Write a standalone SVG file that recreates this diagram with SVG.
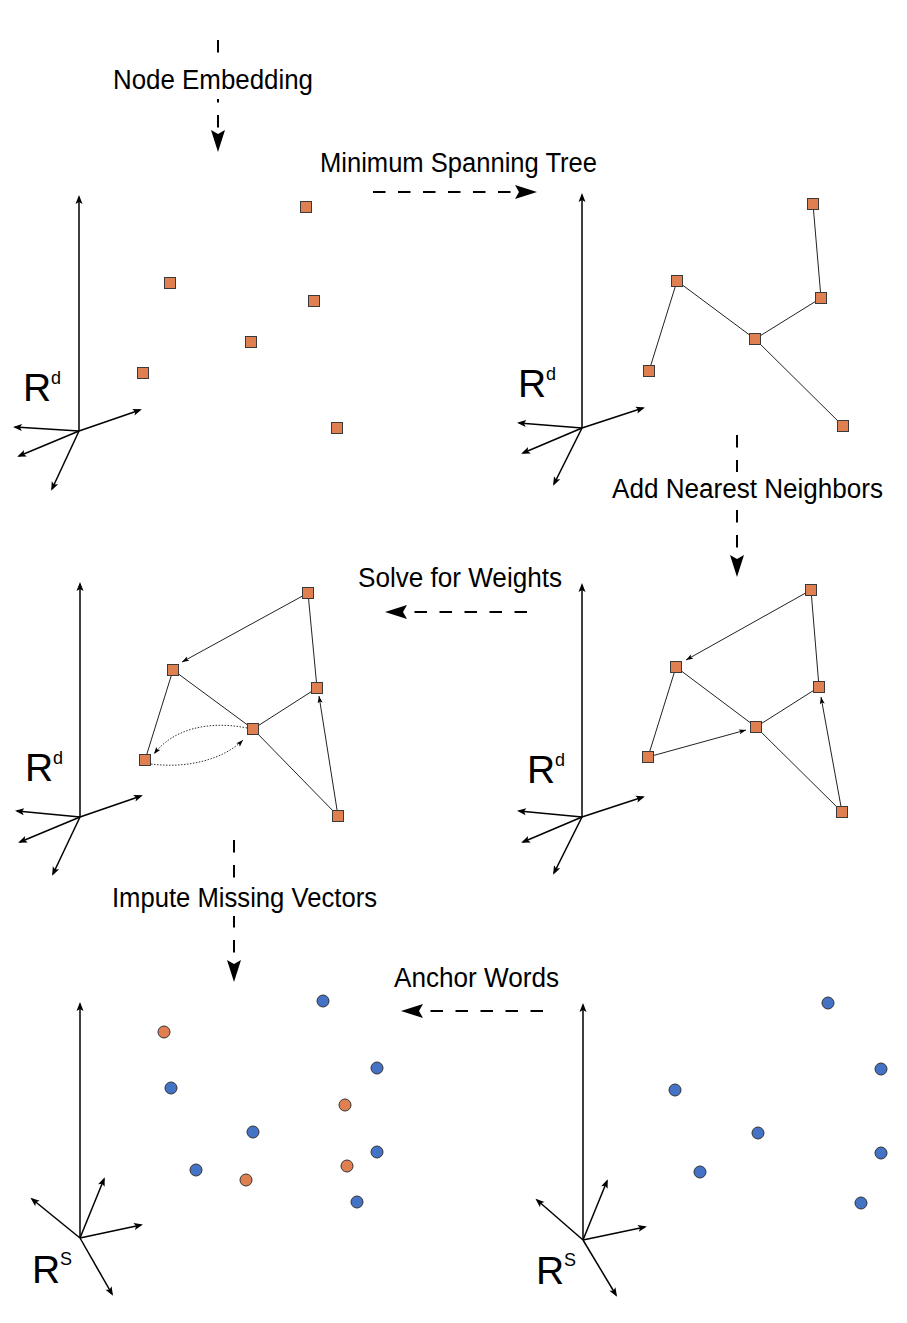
<svg xmlns="http://www.w3.org/2000/svg" width="907" height="1323" viewBox="0 0 907 1323">
<defs>
<style>
.lbl{font-family:"Liberation Sans",Arial,sans-serif;font-size:27px;fill:#000}
.ax{font-family:"Liberation Sans",Arial,sans-serif;font-size:39px;fill:#000}
.sup{font-size:18px}
.flow{stroke:#000;stroke-width:2;fill:none;stroke-dasharray:12.5 12.5;marker-end:url(#big)}
.axis{stroke:#000;stroke-width:1.5;fill:none;marker-end:url(#ah)}
.edge{stroke:#222;stroke-width:1;fill:none}
.arr{marker-end:url(#sm)}
.dot{stroke:#333;stroke-width:1;fill:none;stroke-dasharray:1.5 1.5;marker-end:url(#sm)}
.sq{fill:#E08050;stroke:#3a3a3a;stroke-width:1}
.co{fill:#E08050;stroke:#333;stroke-width:1}
.cb{fill:#4472C4;stroke:#333;stroke-width:1}
</style>
<marker id="big" markerUnits="userSpaceOnUse" markerWidth="24" markerHeight="16" refX="15" refY="7" orient="auto" overflow="visible">
<path d="M0,0 L22,7 L0,14 L4,7 Z" fill="#000"/>
</marker>
<marker id="ah" markerUnits="userSpaceOnUse" markerWidth="10" markerHeight="8" refX="7" refY="3.5" orient="auto" overflow="visible">
<path d="M0,0 L9,3.5 L0,7 L2,3.5 Z" fill="#000"/>
</marker>
<marker id="sm" markerUnits="userSpaceOnUse" markerWidth="8" markerHeight="6" refX="7" refY="2.5" orient="auto" overflow="visible">
<path d="M0,0 L7,2.5 L0,5 L1.5,2.5 Z" fill="#000"/>
</marker>
</defs>
<rect width="907" height="1323" fill="#fff"/>

<g id="connectors">
<line class="flow" x1="218" y1="40" x2="218" y2="145"/>
<line class="flow" x1="373" y1="192" x2="530" y2="192"/>
<line class="flow" x1="737" y1="435" x2="737" y2="570"/>
<line class="flow" x1="527" y1="612" x2="392" y2="612"/>
<line class="flow" x1="234" y1="840" x2="234" y2="975"/>
<line class="flow" x1="543" y1="1011" x2="408" y2="1011"/>

<g id="axes1">
<line class="axis" x1="79" y1="431" x2="79" y2="197"/>
<line class="axis" x1="79" y1="431" x2="15" y2="427"/>
<line class="axis" x1="79" y1="431" x2="19" y2="456"/>
<line class="axis" x1="79" y1="431" x2="52" y2="489"/>
<line class="axis" x1="79" y1="431" x2="140" y2="410"/>
</g>
<g id="axes2">
<line class="axis" x1="582" y1="428" x2="582" y2="195"/>
<line class="axis" x1="582" y1="428" x2="519" y2="423"/>
<line class="axis" x1="582" y1="428" x2="523" y2="453"/>
<line class="axis" x1="582" y1="428" x2="554" y2="484"/>
<line class="axis" x1="582" y1="428" x2="643" y2="408"/>
</g>
<g id="axes3">
<line class="axis" x1="80" y1="817" x2="80" y2="584"/>
<line class="axis" x1="80" y1="817" x2="17" y2="811"/>
<line class="axis" x1="80" y1="817" x2="20" y2="842"/>
<line class="axis" x1="80" y1="817" x2="53" y2="874"/>
<line class="axis" x1="80" y1="817" x2="141" y2="796"/>
</g>
<g id="axes4">
<line class="axis" x1="582" y1="817" x2="582" y2="585"/>
<line class="axis" x1="582" y1="817" x2="519" y2="811"/>
<line class="axis" x1="582" y1="817" x2="523" y2="842"/>
<line class="axis" x1="582" y1="817" x2="554" y2="873"/>
<line class="axis" x1="582" y1="817" x2="643" y2="797"/>
</g>
<g id="axes5">
<line class="axis" x1="80" y1="1238" x2="80" y2="1004"/>
<line class="axis" x1="80" y1="1238" x2="32" y2="1199"/>
<line class="axis" x1="80" y1="1238" x2="104" y2="1179"/>
<line class="axis" x1="80" y1="1238" x2="141" y2="1225"/>
<line class="axis" x1="80" y1="1238" x2="112" y2="1294"/>
</g>
<g id="axes6">
<line class="axis" x1="583" y1="1240" x2="583" y2="1005"/>
<line class="axis" x1="583" y1="1240" x2="537" y2="1200"/>
<line class="axis" x1="583" y1="1240" x2="607" y2="1181"/>
<line class="axis" x1="583" y1="1240" x2="645" y2="1227"/>
<line class="axis" x1="583" y1="1240" x2="616" y2="1295"/>
</g>

<line class="edge" x1="649" y1="371" x2="677" y2="281"/>
<line class="edge" x1="677" y1="281" x2="755" y2="339"/>
<line class="edge" x1="755" y1="339" x2="821" y2="298"/>
<line class="edge" x1="821" y1="298" x2="813" y2="204"/>
<line class="edge" x1="755" y1="339" x2="843" y2="426"/>

<line class="edge arr" x1="308" y1="593" x2="182" y2="662"/>
<line class="edge" x1="173" y1="670" x2="145" y2="760"/>
<line class="edge" x1="173" y1="670" x2="253" y2="729"/>
<line class="edge" x1="253" y1="729" x2="317" y2="688"/>
<line class="edge" x1="308" y1="593" x2="317" y2="688"/>
<line class="edge" x1="253" y1="729" x2="338" y2="816"/>
<line class="edge arr" x1="338" y1="816" x2="319" y2="696"/>
<path class="dot" d="M247,728 C207,720 172,730 154,754"/>
<path class="dot" d="M151,764 C190,769 225,758 243,740"/>

<line class="edge arr" x1="811" y1="590" x2="686" y2="660"/>
<line class="edge" x1="676" y1="667" x2="648" y2="757"/>
<line class="edge" x1="676" y1="667" x2="756" y2="727"/>
<line class="edge" x1="756" y1="727" x2="819" y2="687"/>
<line class="edge" x1="811" y1="590" x2="819" y2="687"/>
<line class="edge" x1="756" y1="727" x2="842" y2="812"/>
<line class="edge arr" x1="842" y1="812" x2="821" y2="697"/>
<line class="edge arr" x1="648" y1="757" x2="746" y2="730"/>
</g>

<g id="lbl-node-embedding">
<rect x="110" y="63" width="206" height="36" fill="#fff"/>
<text class="lbl" x="113" y="89" textLength="200" lengthAdjust="spacingAndGlyphs">Node Embedding</text>
</g>
<g id="lbl-mst">
<text class="lbl" x="320" y="172" textLength="277" lengthAdjust="spacingAndGlyphs">Minimum Spanning Tree</text>
</g>
<g id="lbl-add-nn">
<rect x="609" y="472" width="278" height="34" fill="#fff"/>
<text class="lbl" x="612" y="498" textLength="271" lengthAdjust="spacingAndGlyphs">Add Nearest Neighbors</text>
</g>
<g id="lbl-solve">
<text class="lbl" x="358" y="587" textLength="204" lengthAdjust="spacingAndGlyphs">Solve for Weights</text>
</g>
<g id="lbl-impute">
<rect x="108" y="882" width="272" height="34" fill="#fff"/>
<text class="lbl" x="112" y="907" textLength="265" lengthAdjust="spacingAndGlyphs">Impute Missing Vectors</text>
</g>
<g id="lbl-anchor">
<text class="lbl" x="394" y="987" textLength="165" lengthAdjust="spacingAndGlyphs">Anchor Words</text>
</g>

<g id="space1"><text class="ax" x="23" y="401">R<tspan class="sup" x="51" y="384">d</tspan></text></g>
<g id="space2"><text class="ax" x="518" y="397">R<tspan class="sup" x="546" y="380">d</tspan></text></g>
<g id="space3"><text class="ax" x="25" y="781">R<tspan class="sup" x="53" y="764">d</tspan></text></g>
<g id="space4"><text class="ax" x="527" y="783">R<tspan class="sup" x="555" y="766">d</tspan></text></g>
<g id="space5"><text class="ax" x="32" y="1283">R<tspan class="sup" x="60" y="1265">S</tspan></text></g>
<g id="space6"><text class="ax" x="536" y="1284">R<tspan class="sup" x="564" y="1266">S</tspan></text></g>

<g id="p1-n1"><rect class="sq" x="300.5" y="201.5" width="11" height="11"/></g>
<g id="p1-n2"><rect class="sq" x="164.5" y="277.5" width="11" height="11"/></g>
<g id="p1-n3"><rect class="sq" x="308.5" y="295.5" width="11" height="11"/></g>
<g id="p1-n4"><rect class="sq" x="245.5" y="336.5" width="11" height="11"/></g>
<g id="p1-n5"><rect class="sq" x="137.5" y="367.5" width="11" height="11"/></g>
<g id="p1-n6"><rect class="sq" x="331.5" y="422.5" width="11" height="11"/></g>

<g id="p2-n1"><rect class="sq" x="807.5" y="198.5" width="11" height="11"/></g>
<g id="p2-n2"><rect class="sq" x="671.5" y="275.5" width="11" height="11"/></g>
<g id="p2-n3"><rect class="sq" x="815.5" y="292.5" width="11" height="11"/></g>
<g id="p2-n4"><rect class="sq" x="749.5" y="333.5" width="11" height="11"/></g>
<g id="p2-n5"><rect class="sq" x="643.5" y="365.5" width="11" height="11"/></g>
<g id="p2-n6"><rect class="sq" x="837.5" y="420.5" width="11" height="11"/></g>

<g id="p3-n1"><rect class="sq" x="302.5" y="587.5" width="11" height="11"/></g>
<g id="p3-n2"><rect class="sq" x="167.5" y="664.5" width="11" height="11"/></g>
<g id="p3-n3"><rect class="sq" x="311.5" y="682.5" width="11" height="11"/></g>
<g id="p3-n4"><rect class="sq" x="247.5" y="723.5" width="11" height="11"/></g>
<g id="p3-n5"><rect class="sq" x="139.5" y="754.5" width="11" height="11"/></g>
<g id="p3-n6"><rect class="sq" x="332.5" y="810.5" width="11" height="11"/></g>

<g id="p4-n1"><rect class="sq" x="805.5" y="584.5" width="11" height="11"/></g>
<g id="p4-n2"><rect class="sq" x="670.5" y="661.5" width="11" height="11"/></g>
<g id="p4-n3"><rect class="sq" x="813.5" y="681.5" width="11" height="11"/></g>
<g id="p4-n4"><rect class="sq" x="750.5" y="721.5" width="11" height="11"/></g>
<g id="p4-n5"><rect class="sq" x="642.5" y="751.5" width="11" height="11"/></g>
<g id="p4-n6"><rect class="sq" x="836.5" y="806.5" width="11" height="11"/></g>

<g id="p5-o1"><circle class="co" cx="164" cy="1032" r="6"/></g>
<g id="p5-o2"><circle class="co" cx="345" cy="1105" r="6"/></g>
<g id="p5-o3"><circle class="co" cx="347" cy="1166" r="6"/></g>
<g id="p5-o4"><circle class="co" cx="246" cy="1180" r="6"/></g>
<g id="p5-b1"><circle class="cb" cx="323" cy="1001" r="6"/></g>
<g id="p5-b2"><circle class="cb" cx="377" cy="1068" r="6"/></g>
<g id="p5-b3"><circle class="cb" cx="171" cy="1088" r="6"/></g>
<g id="p5-b4"><circle class="cb" cx="253" cy="1132" r="6"/></g>
<g id="p5-b5"><circle class="cb" cx="377" cy="1152" r="6"/></g>
<g id="p5-b6"><circle class="cb" cx="196" cy="1170" r="6"/></g>
<g id="p5-b7"><circle class="cb" cx="357" cy="1202" r="6"/></g>

<g id="p6-b1"><circle class="cb" cx="828" cy="1003" r="6"/></g>
<g id="p6-b2"><circle class="cb" cx="881" cy="1069" r="6"/></g>
<g id="p6-b3"><circle class="cb" cx="675" cy="1090" r="6"/></g>
<g id="p6-b4"><circle class="cb" cx="758" cy="1133" r="6"/></g>
<g id="p6-b5"><circle class="cb" cx="881" cy="1153" r="6"/></g>
<g id="p6-b6"><circle class="cb" cx="700" cy="1172" r="6"/></g>
<g id="p6-b7"><circle class="cb" cx="861" cy="1203" r="6"/></g>
</svg>
